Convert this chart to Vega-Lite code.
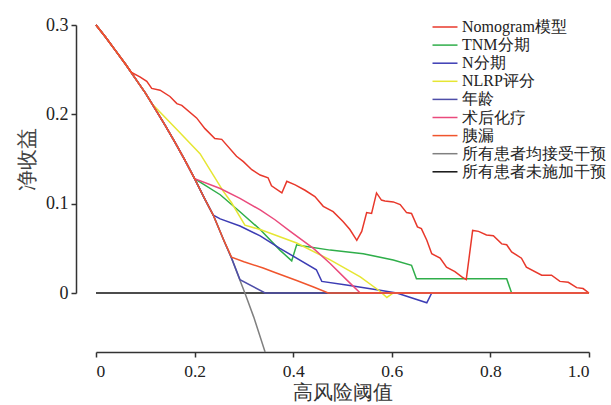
{
  "$schema": "https://vega.github.io/schema/vega-lite/v6.json",
  "autosize": "none",
  "padding": {"left": 96, "top": 25, "right": 22, "bottom": 112},
  "width": 493,
  "height": 268,
  "config": {
    "view": {"stroke": null},
    "font": "Liberation Serif",
    "axis": {"labelFont": "Liberation Serif", "titleFont": "Liberation Serif"},
    "legend": {"labelFont": "Liberation Serif"}
  },
  "data": {"values": [
    {"s":"所有患者未施加干预","x":0,"y":0},{"s":"所有患者未施加干预","x":1,"y":0},
    {"s":"所有患者均接受干预","x":0,"y":0.3},{"s":"所有患者均接受干预","x":0.02,"y":0.286},{"s":"所有患者均接受干预","x":0.04,"y":0.271},{"s":"所有患者均接受干预","x":0.06,"y":0.256},{"s":"所有患者均接受干预","x":0.08,"y":0.24},{"s":"所有患者均接受干预","x":0.1,"y":0.224},{"s":"所有患者均接受干预","x":0.12,"y":0.206},{"s":"所有患者均接受干预","x":0.14,"y":0.188},{"s":"所有患者均接受干预","x":0.16,"y":0.169},{"s":"所有患者均接受干预","x":0.18,"y":0.149},{"s":"所有患者均接受干预","x":0.2,"y":0.128},{"s":"所有患者均接受干预","x":0.22,"y":0.106},{"s":"所有患者均接受干预","x":0.238,"y":0.087},{"s":"所有患者均接受干预","x":0.26,"y":0.058},{"s":"所有患者均接受干预","x":0.275,"y":0.039},{"s":"所有患者均接受干预","x":0.29,"y":0.017},{"s":"所有患者均接受干预","x":0.302,"y":0},{"s":"所有患者均接受干预","x":0.32,"y":-0.027},{"s":"所有患者均接受干预","x":0.343,"y":-0.066},
    {"s":"TNM分期","x":0,"y":0.3},{"s":"TNM分期","x":0.02,"y":0.286},{"s":"TNM分期","x":0.04,"y":0.271},{"s":"TNM分期","x":0.06,"y":0.256},{"s":"TNM分期","x":0.08,"y":0.24},{"s":"TNM分期","x":0.1,"y":0.224},{"s":"TNM分期","x":0.12,"y":0.206},{"s":"TNM分期","x":0.14,"y":0.188},{"s":"TNM分期","x":0.16,"y":0.169},{"s":"TNM分期","x":0.18,"y":0.149},{"s":"TNM分期","x":0.2,"y":0.128},{"s":"TNM分期","x":0.252,"y":0.11},{"s":"TNM分期","x":0.292,"y":0.091},{"s":"TNM分期","x":0.333,"y":0.071},{"s":"TNM分期","x":0.373,"y":0.048},{"s":"TNM分期","x":0.397,"y":0.036},{"s":"TNM分期","x":0.407,"y":0.054},{"s":"TNM分期","x":0.417,"y":0.053},{"s":"TNM分期","x":0.475,"y":0.048},{"s":"TNM分期","x":0.542,"y":0.044},{"s":"TNM分期","x":0.603,"y":0.037},{"s":"TNM分期","x":0.64,"y":0.031},{"s":"TNM分期","x":0.65,"y":0.016},{"s":"TNM分期","x":0.833,"y":0.016},{"s":"TNM分期","x":0.843,"y":0},{"s":"TNM分期","x":1,"y":0},
    {"s":"N分期","x":0,"y":0.3},{"s":"N分期","x":0.02,"y":0.286},{"s":"N分期","x":0.04,"y":0.271},{"s":"N分期","x":0.06,"y":0.256},{"s":"N分期","x":0.08,"y":0.24},{"s":"N分期","x":0.1,"y":0.224},{"s":"N分期","x":0.12,"y":0.206},{"s":"N分期","x":0.14,"y":0.188},{"s":"N分期","x":0.16,"y":0.169},{"s":"N分期","x":0.18,"y":0.149},{"s":"N分期","x":0.2,"y":0.128},{"s":"N分期","x":0.22,"y":0.106},{"s":"N分期","x":0.238,"y":0.087},{"s":"N分期","x":0.252,"y":0.083},{"s":"N分期","x":0.292,"y":0.075},{"s":"N分期","x":0.333,"y":0.064},{"s":"N分期","x":0.373,"y":0.05},{"s":"N分期","x":0.447,"y":0.026},{"s":"N分期","x":0.458,"y":0.013},{"s":"N分期","x":0.508,"y":0.009},{"s":"N分期","x":0.576,"y":0.003},{"s":"N分期","x":0.61,"y":0},{"s":"N分期","x":0.671,"y":-0.011},{"s":"N分期","x":0.681,"y":0},{"s":"N分期","x":1,"y":0},
    {"s":"NLRP评分","x":0,"y":0.3},{"s":"NLRP评分","x":0.02,"y":0.286},{"s":"NLRP评分","x":0.04,"y":0.271},{"s":"NLRP评分","x":0.06,"y":0.256},{"s":"NLRP评分","x":0.08,"y":0.24},{"s":"NLRP评分","x":0.1,"y":0.224},{"s":"NLRP评分","x":0.113,"y":0.212},{"s":"NLRP评分","x":0.164,"y":0.183},{"s":"NLRP评分","x":0.211,"y":0.156},{"s":"NLRP评分","x":0.231,"y":0.138},{"s":"NLRP评分","x":0.258,"y":0.114},{"s":"NLRP评分","x":0.275,"y":0.101},{"s":"NLRP评分","x":0.302,"y":0.076},{"s":"NLRP评分","x":0.333,"y":0.071},{"s":"NLRP评分","x":0.407,"y":0.056},{"s":"NLRP评分","x":0.475,"y":0.037},{"s":"NLRP评分","x":0.536,"y":0.018},{"s":"NLRP评分","x":0.576,"y":0.002},{"s":"NLRP评分","x":0.59,"y":-0.005},{"s":"NLRP评分","x":0.603,"y":0},{"s":"NLRP评分","x":1,"y":0},
    {"s":"年龄","x":0,"y":0.3},{"s":"年龄","x":0.02,"y":0.286},{"s":"年龄","x":0.04,"y":0.271},{"s":"年龄","x":0.06,"y":0.256},{"s":"年龄","x":0.08,"y":0.24},{"s":"年龄","x":0.1,"y":0.224},{"s":"年龄","x":0.12,"y":0.206},{"s":"年龄","x":0.14,"y":0.188},{"s":"年龄","x":0.16,"y":0.169},{"s":"年龄","x":0.18,"y":0.149},{"s":"年龄","x":0.2,"y":0.128},{"s":"年龄","x":0.22,"y":0.106},{"s":"年龄","x":0.238,"y":0.087},{"s":"年龄","x":0.26,"y":0.058},{"s":"年龄","x":0.275,"y":0.039},{"s":"年龄","x":0.292,"y":0.015},{"s":"年龄","x":0.343,"y":0},{"s":"年龄","x":1,"y":0},
    {"s":"术后化疗","x":0,"y":0.3},{"s":"术后化疗","x":0.02,"y":0.286},{"s":"术后化疗","x":0.04,"y":0.271},{"s":"术后化疗","x":0.06,"y":0.256},{"s":"术后化疗","x":0.08,"y":0.24},{"s":"术后化疗","x":0.1,"y":0.224},{"s":"术后化疗","x":0.12,"y":0.206},{"s":"术后化疗","x":0.14,"y":0.188},{"s":"术后化疗","x":0.16,"y":0.169},{"s":"术后化疗","x":0.18,"y":0.149},{"s":"术后化疗","x":0.2,"y":0.128},{"s":"术后化疗","x":0.252,"y":0.117},{"s":"术后化疗","x":0.292,"y":0.106},{"s":"术后化疗","x":0.333,"y":0.093},{"s":"术后化疗","x":0.363,"y":0.082},{"s":"术后化疗","x":0.394,"y":0.069},{"s":"术后化疗","x":0.441,"y":0.05},{"s":"术后化疗","x":0.475,"y":0.033},{"s":"术后化疗","x":0.508,"y":0.015},{"s":"术后化疗","x":0.536,"y":0},{"s":"术后化疗","x":1,"y":0},
    {"s":"Nomogram模型","x":0,"y":0.3},{"s":"Nomogram模型","x":0.02,"y":0.286},{"s":"Nomogram模型","x":0.04,"y":0.271},{"s":"Nomogram模型","x":0.06,"y":0.256},{"s":"Nomogram模型","x":0.072,"y":0.247},{"s":"Nomogram模型","x":0.089,"y":0.242},{"s":"Nomogram模型","x":0.103,"y":0.237},{"s":"Nomogram模型","x":0.113,"y":0.229},{"s":"Nomogram模型","x":0.13,"y":0.227},{"s":"Nomogram模型","x":0.15,"y":0.22},{"s":"Nomogram模型","x":0.164,"y":0.212},{"s":"Nomogram模型","x":0.174,"y":0.21},{"s":"Nomogram模型","x":0.204,"y":0.196},{"s":"Nomogram模型","x":0.221,"y":0.184},{"s":"Nomogram模型","x":0.241,"y":0.173},{"s":"Nomogram模型","x":0.255,"y":0.172},{"s":"Nomogram模型","x":0.285,"y":0.153},{"s":"Nomogram模型","x":0.299,"y":0.147},{"s":"Nomogram模型","x":0.316,"y":0.138},{"s":"Nomogram模型","x":0.333,"y":0.132},{"s":"Nomogram模型","x":0.349,"y":0.129},{"s":"Nomogram模型","x":0.356,"y":0.12},{"s":"Nomogram模型","x":0.377,"y":0.112},{"s":"Nomogram模型","x":0.387,"y":0.125},{"s":"Nomogram模型","x":0.404,"y":0.121},{"s":"Nomogram模型","x":0.424,"y":0.115},{"s":"Nomogram模型","x":0.444,"y":0.108},{"s":"Nomogram模型","x":0.461,"y":0.097},{"s":"Nomogram模型","x":0.481,"y":0.091},{"s":"Nomogram模型","x":0.501,"y":0.08},{"s":"Nomogram模型","x":0.515,"y":0.071},{"s":"Nomogram模型","x":0.529,"y":0.059},{"s":"Nomogram模型","x":0.539,"y":0.069},{"s":"Nomogram模型","x":0.549,"y":0.09},{"s":"Nomogram模型","x":0.559,"y":0.089},{"s":"Nomogram模型","x":0.569,"y":0.112},{"s":"Nomogram模型","x":0.579,"y":0.104},{"s":"Nomogram模型","x":0.586,"y":0.103},{"s":"Nomogram模型","x":0.603,"y":0.102},{"s":"Nomogram模型","x":0.617,"y":0.099},{"s":"Nomogram模型","x":0.63,"y":0.09},{"s":"Nomogram模型","x":0.64,"y":0.089},{"s":"Nomogram模型","x":0.652,"y":0.074},{"s":"Nomogram模型","x":0.66,"y":0.072},{"s":"Nomogram模型","x":0.671,"y":0.059},{"s":"Nomogram模型","x":0.681,"y":0.044},{"s":"Nomogram模型","x":0.698,"y":0.039},{"s":"Nomogram模型","x":0.711,"y":0.029},{"s":"Nomogram模型","x":0.728,"y":0.024},{"s":"Nomogram模型","x":0.742,"y":0.018},{"s":"Nomogram模型","x":0.751,"y":0.015},{"s":"Nomogram模型","x":0.764,"y":0.07},{"s":"Nomogram模型","x":0.776,"y":0.069},{"s":"Nomogram模型","x":0.792,"y":0.065},{"s":"Nomogram模型","x":0.806,"y":0.064},{"s":"Nomogram模型","x":0.823,"y":0.055},{"s":"Nomogram模型","x":0.833,"y":0.054},{"s":"Nomogram模型","x":0.843,"y":0.046},{"s":"Nomogram模型","x":0.863,"y":0.039},{"s":"Nomogram模型","x":0.873,"y":0.029},{"s":"Nomogram模型","x":0.904,"y":0.02},{"s":"Nomogram模型","x":0.924,"y":0.02},{"s":"Nomogram模型","x":0.941,"y":0.013},{"s":"Nomogram模型","x":0.958,"y":0.012},{"s":"Nomogram模型","x":0.975,"y":0.006},{"s":"Nomogram模型","x":0.988,"y":0.005},{"s":"Nomogram模型","x":1,"y":0},
    {"s":"胰漏","x":0,"y":0.3},{"s":"胰漏","x":0.02,"y":0.286},{"s":"胰漏","x":0.04,"y":0.271},{"s":"胰漏","x":0.06,"y":0.256},{"s":"胰漏","x":0.08,"y":0.24},{"s":"胰漏","x":0.1,"y":0.224},{"s":"胰漏","x":0.12,"y":0.206},{"s":"胰漏","x":0.14,"y":0.188},{"s":"胰漏","x":0.16,"y":0.169},{"s":"胰漏","x":0.18,"y":0.149},{"s":"胰漏","x":0.2,"y":0.128},{"s":"胰漏","x":0.22,"y":0.106},{"s":"胰漏","x":0.238,"y":0.087},{"s":"胰漏","x":0.26,"y":0.058},{"s":"胰漏","x":0.275,"y":0.04},{"s":"胰漏","x":0.3,"y":0.035},{"s":"胰漏","x":0.339,"y":0.028},{"s":"胰漏","x":0.363,"y":0.023},{"s":"胰漏","x":0.407,"y":0.014},{"s":"胰漏","x":0.44,"y":0.007},{"s":"胰漏","x":0.471,"y":0},{"s":"胰漏","x":1,"y":0}
  ]},
  "encoding": {
    "x": {"field": "x", "type": "quantitative",
      "scale": {"domain": [0, 1], "nice": false, "zero": false},
      "axis": {"title": "高风险阈值", "offset": 59, "values": [0, 0.2, 0.4, 0.6, 0.8, 1],
        "labelExpr": "datum.value == 0 ? '0' : format(datum.value, '.1f')",
        "grid": false, "tickSize": 5, "domainColor": "#333", "tickColor": "#333", "domainWidth": 1.5, "tickWidth": 1.5,
        "labelFontSize": 17.5, "labelColor": "#222", "labelPadding": 5,
        "titleFontSize": 20, "titleFontWeight": "normal", "titleColor": "#333", "titlePadding": 3}},
    "y": {"field": "y", "type": "quantitative",
      "scale": {"domain": [0, 0.3], "nice": false, "zero": false},
      "axis": {"title": "净收益", "offset": 20, "values": [0, 0.1, 0.2, 0.3], "format": "~g",
        "grid": false, "tickSize": 5, "domainColor": "#333", "tickColor": "#333", "domainWidth": 1.5, "tickWidth": 1.5,
        "labelFontSize": 18, "labelColor": "#222", "labelPadding": 3,
        "titleFontSize": 21, "titleFontWeight": "normal", "titleColor": "#444", "titlePadding": 8}},
    "color": {"field": "s", "type": "nominal",
      "scale": {
        "domain": ["Nomogram模型", "TNM分期", "N分期", "NLRP评分", "年龄", "术后化疗", "胰漏", "所有患者均接受干预", "所有患者未施加干预"],
        "range": ["#e8382b", "#2fae4a", "#3c3cb4", "#e6e633", "#4e4ea8", "#ea4a7c", "#f0552d", "#808080", "#111111"]},
      "legend": {"title": null, "orient": "none", "legendX": 341, "legendY": -6,
        "symbolType": "M-2,0H2", "symbolSize": 156, "symbolStrokeWidth": 1.5,
        "labelFontSize": 16, "labelColor": "#222", "labelOffset": 9, "rowPadding": 2.1, "padding": 0}}
  },
  "layer": [
    {"transform": [{"filter": "datum.s != '胰漏'"}], "mark": {"type": "line", "strokeWidth": 1.5, "clip": false}},
    {"transform": [{"filter": "datum.s == '胰漏'"}], "mark": {"type": "line", "strokeWidth": 1.5, "clip": false}}
  ]
}
